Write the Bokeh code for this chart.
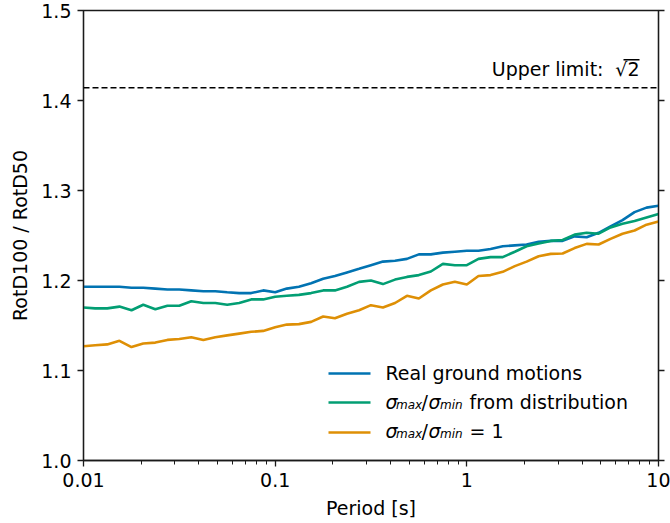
import math

from bokeh.embed import file_html
from bokeh.models import (BoxAnnotation, CustomJSTickFormatter, FixedTicker,
                          Label, LinearAxis, Range1d, Span)
from bokeh.plotting import figure
from bokeh.resources import INLINE

# Oscillator periods [s]
periods = [0.01, 0.0115, 0.0133, 0.0154, 0.0178, 0.0205, 0.0237, 0.0274, 0.0316,
           0.0365, 0.0422, 0.0487, 0.0562, 0.0649, 0.075, 0.0866, 0.1,
           0.115, 0.133, 0.154, 0.178, 0.205, 0.237, 0.274, 0.316,
           0.365, 0.422, 0.487, 0.562, 0.649, 0.75, 0.866, 1.0,
           1.15, 1.33, 1.54, 1.78, 2.05, 2.37, 2.74, 3.16,
           3.65, 4.22, 4.87, 5.62, 6.49, 7.5, 8.66, 10.0]

# RotD100 / RotD50 ratios
real_motions = [1.193, 1.193, 1.193, 1.193, 1.192, 1.192, 1.191, 1.190, 1.190,
                1.189, 1.188, 1.188, 1.187, 1.186, 1.186, 1.189, 1.187,
                1.191, 1.193, 1.197, 1.202, 1.205, 1.209, 1.213, 1.217,
                1.221, 1.222, 1.224, 1.229, 1.229, 1.231, 1.232, 1.233,
                1.233, 1.235, 1.238, 1.239, 1.240, 1.243, 1.244, 1.244,
                1.249, 1.248, 1.253, 1.260, 1.267, 1.276, 1.281, 1.283]

ratio_distribution = [1.170, 1.169, 1.169, 1.171, 1.167, 1.173, 1.168, 1.172, 1.172,
                      1.177, 1.175, 1.175, 1.173, 1.175, 1.179, 1.179, 1.182,
                      1.183, 1.184, 1.186, 1.189, 1.189, 1.193, 1.1985, 1.200,
                      1.196, 1.201, 1.204, 1.206, 1.210, 1.2185, 1.217, 1.217,
                      1.224, 1.226, 1.226, 1.232, 1.238, 1.241, 1.244, 1.245,
                      1.251, 1.253, 1.252, 1.259, 1.263, 1.266, 1.270, 1.274]

ratio_one = [1.127, 1.128, 1.129, 1.133, 1.126, 1.130, 1.131, 1.134, 1.135,
             1.137, 1.134, 1.137, 1.139, 1.141, 1.143, 1.144, 1.148,
             1.151, 1.1515, 1.154, 1.160, 1.158, 1.163, 1.167, 1.1726,
             1.170, 1.175, 1.183, 1.180, 1.189, 1.1956, 1.1985, 1.1956,
             1.205, 1.206, 1.2096, 1.216, 1.221, 1.227, 1.2296, 1.230,
             1.236, 1.2407, 1.240, 1.2463, 1.252, 1.2556, 1.262, 1.2656]

upper_limit = math.sqrt(2)

x_ticks = [0.01, 0.1, 1, 10]
x_minor = [m * d for d in (0.01, 0.1, 1) for m in range(2, 10)]
y_ticks = [1.0, 1.1, 1.2, 1.3, 1.4, 1.5]

colors = {"real": "#0173B2", "dist": "#029E73", "one": "#DE8F05"}

FONT = "DejaVu Sans"
FS = "19px"
SUB = "12px"
AXIS_COLOR = "#1a1a1a"

p = figure(width=670, height=523, x_axis_type="log",
           x_range=Range1d(0.01, 10), y_range=Range1d(1.0, 1.5),
           output_backend="svg", toolbar_location=None,
           min_border_left=83, min_border_right=12,
           min_border_top=10, min_border_bottom=63)
p.background_fill_color = "white"
p.border_fill_color = "white"
p.outline_line_color = AXIS_COLOR
p.outline_line_width = 1.3
p.xgrid.visible = False
p.ygrid.visible = False

# Bottom (log) axis
xa = p.xaxis[0]
xa.ticker = FixedTicker(ticks=x_ticks, minor_ticks=x_minor)
xa.formatter = CustomJSTickFormatter(code="return tick.toString();")
xa.axis_label = "Period [s]"

# Left axis
ya = p.yaxis[0]
ya.ticker = FixedTicker(ticks=y_ticks)
ya.formatter = CustomJSTickFormatter(code="return tick.toFixed(1);")
ya.axis_label = "RotD100 / RotD50"

# Right axis: ticks only
ra = LinearAxis(ticker=FixedTicker(ticks=y_ticks),
                formatter=CustomJSTickFormatter(code="return '';"),
                major_label_text_font_size="0px")
p.add_layout(ra, "right")

for ax in (xa, ya, ra):
    ax.axis_line_color = AXIS_COLOR
    ax.axis_line_width = 1.3
    ax.major_tick_line_color = AXIS_COLOR
    ax.minor_tick_line_color = AXIS_COLOR
    ax.major_tick_line_width = 1.3
    ax.minor_tick_line_width = 1.0
    ax.major_tick_in = 0
    ax.major_tick_out = 6
    ax.minor_tick_in = 0
    ax.minor_tick_out = 4
    ax.major_label_text_font = FONT
    ax.axis_label_text_font = FONT
    ax.axis_label_text_font_style = "normal"
    ax.major_label_text_color = "black"
    ax.axis_label_text_color = "black"
for ax in (xa, ya):
    ax.major_label_text_font_size = FS
    ax.axis_label_text_font_size = FS
ya.minor_tick_out = 0
ra.minor_tick_out = 0
xa.major_label_standoff = 6
xa.axis_label_standoff = 7
ya.major_label_standoff = 6
ya.axis_label_standoff = 7

# Theoretical upper limit
p.add_layout(Span(location=upper_limit, dimension="width",
                  line_color="black", line_width=1.6, line_dash="6 3"))
p.add_layout(Label(x=520, y=391.5, x_units="screen", y_units="screen",
                   text="Upper limit:", text_align="right",
                   text_baseline="alphabetic", text_font=FONT,
                   text_font_size=FS, text_color="black"))
p.add_layout(Label(x=556, y=391.5, x_units="screen", y_units="screen",
                   text="\u221a2", text_align="right",
                   text_baseline="alphabetic", text_font=FONT,
                   text_font_size=FS, text_color="black"))
# bar of the radical over the "2"
p.add_layout(BoxAnnotation(left=540, right=556, bottom=400, top=401.4,
                           left_units="screen", right_units="screen",
                           top_units="screen", bottom_units="screen",
                           fill_color="black", fill_alpha=1, line_alpha=0))

# Data series
p.line(periods, real_motions, line_width=2.6, line_color=colors["real"])
p.line(periods, ratio_distribution, line_width=2.6, line_color=colors["dist"])
p.line(periods, ratio_one, line_width=2.6, line_color=colors["one"])

# Legend (frame-relative screen coordinates)
rows = [("real", 87), ("dist", 58), ("one", 28)]
for key, yc in rows:
    p.add_layout(BoxAnnotation(left=245, right=287, bottom=yc - 1.3, top=yc + 1.3,
                               left_units="screen", right_units="screen",
                               top_units="screen", bottom_units="screen",
                               fill_color=colors[key], fill_alpha=1, line_alpha=0))


def txt(x, y, s, size=FS, style="normal"):
    p.add_layout(Label(x=x, y=y, x_units="screen", y_units="screen", text=s,
                       text_align="left", text_baseline="alphabetic",
                       text_font=FONT, text_font_size=size,
                       text_font_style=style, text_color="black"))


txt(302, 87.5, "Real ground motions")
for base, tail in ((58.5, " from distribution"), (29.5, " = 1")):
    txt(302, base, "\u03c3", style="italic")
    txt(312.5, base - 3, "max", size=SUB, style="italic")
    txt(338, base, "/")
    txt(345, base, "\u03c3", style="italic")
    txt(356.5, base - 3, "min", size=SUB, style="italic")
    txt(386, base, tail)

open("out.html", "w").write(file_html(p, INLINE))
